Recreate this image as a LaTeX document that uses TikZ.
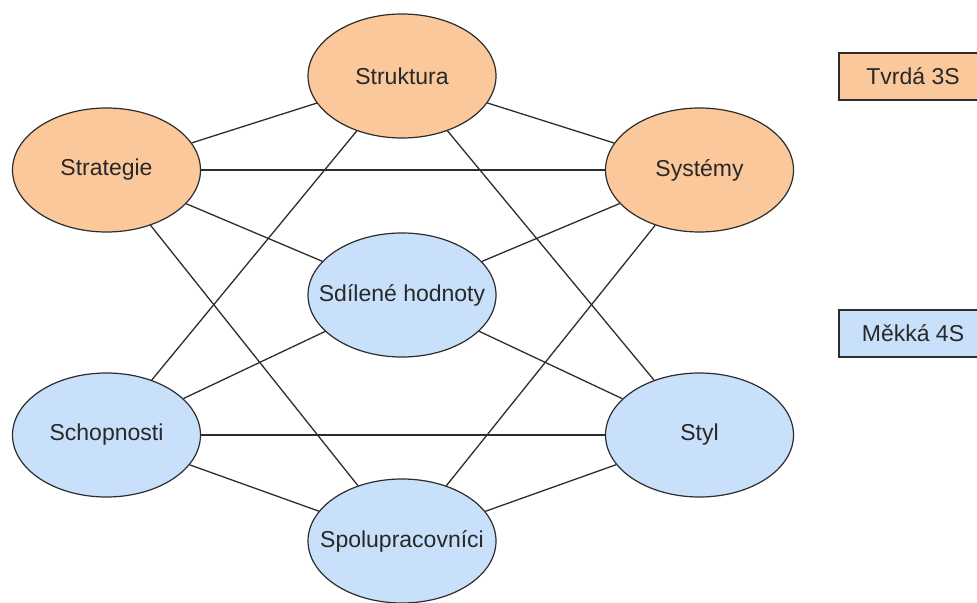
\documentclass[tikz,border=0pt]{standalone}
\usepackage{fontspec}
\setmainfont{Liberation Sans}
\usetikzlibrary{shapes.geometric}
\definecolor{hardfill}{RGB}{250,200,155}
\definecolor{softfill}{RGB}{200,224,250}
\definecolor{linecol}{RGB}{45,45,45}
\definecolor{txtcol}{RGB}{40,40,40}
\newcommand{\zw}[1]{\makebox[0pt]{#1}}
\tikzset{
  sbase/.style={ellipse, draw=linecol, line width=0.6pt, minimum width=94pt, minimum height=62pt, inner sep=0pt, text=txtcol, font=\fontsize{11.5pt}{13pt}\selectfont},
  hard/.style={sbase, fill=hardfill},
  soft/.style={sbase, fill=softfill},
  legendbox/.style={rectangle, draw=linecol, line width=0.6pt, minimum width=90pt, minimum height=23.5pt, inner sep=0pt, text=txtcol, font=\fontsize{11.5pt}{13pt}\selectfont},
  link/.style={draw=linecol, line width=0.65pt}
}
\begin{document}
\begin{tikzpicture}[x=0.5pt, y=-0.5pt]
\useasboundingbox (0,0) rectangle (977,603);
\fill[white] (0,0) rectangle (977,603);
\node[hard] (struktura) at (402,76) {\zw{Struktura}};
\node[hard] (strategie) at (106.5,170) {\zw{Strategie}};
\node[hard] (systemy) at (699.5,170) {\zw{Systémy}};
\node[soft] (sdilene) at (402,295) {\zw{Sdílené hodnoty}};
\node[soft] (schopnosti) at (106.5,435) {\zw{Schopnosti}};
\node[soft] (styl) at (699.5,435) {\zw{Styl}};
\node[soft] (spolu) at (402,541) {\zw{Spolupracovníci}};
\node[legendbox, fill=hardfill] (tvrda) at (929,76.5) {\hspace*{-16pt}Tvrdá 3S};
\node[legendbox, fill=softfill] (mekka) at (929,333.5) {\hspace*{-16pt}Měkká 4S};
\draw[link] (strategie) -- (struktura);
\draw[link] (strategie) -- (systemy);
\draw[link] (strategie) -- (sdilene);
\draw[link] (strategie) -- (spolu);
\draw[link] (struktura) -- (systemy);
\draw[link] (struktura) -- (schopnosti);
\draw[link] (struktura) -- (styl);
\draw[link] (systemy) -- (sdilene);
\draw[link] (systemy) -- (spolu);
\draw[link] (sdilene) -- (schopnosti);
\draw[link] (sdilene) -- (styl);
\draw[link] (schopnosti) -- (styl);
\draw[link] (schopnosti) -- (spolu);
\draw[link] (styl) -- (spolu);
\end{tikzpicture}
\end{document}
